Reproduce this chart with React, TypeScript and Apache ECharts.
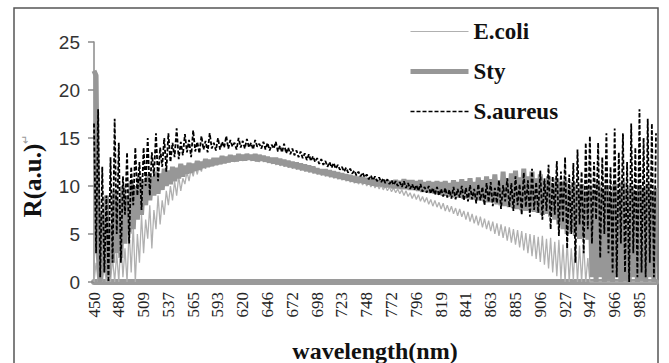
import React, { useEffect, useRef } from 'react';
import * as echarts from 'echarts';

const tickLabels = ['450', '480', '509', '537', '565', '593', '620', '646', '672', '698', '723', '748', '772', '796', '819', '841', '863', '885', '906', '927', '947', '966', '985'];

const seriesNames = ['E.coli', 'Sty', 'S.aureus'];

// 12 readings per labelled tick interval
const ecoli = [
  0, 2, 0, 3, 0, 1.5, 0, 4, 0, 2.5, 0, 3,
  0, 4.5, 0.5, 3.5, 0, 5.5, 1, 6, 0, 5, 2, 7,
  3, 6.5, 4.5, 8, 3.5, 7.5, 5.5, 9, 6, 8.5, 7, 9.5,
  8, 10, 8.5, 10.5, 9, 11, 9.5, 10.8, 10.2, 11.5, 10.5, 11.8,
  11, 12, 11.2, 12.2, 11.5, 12.4, 11.8, 12.5, 12, 12.6, 12.1, 12.7,
  12.2, 12.8, 12.3, 12.9, 12.4, 12.9, 12.5, 13, 12.5, 13, 12.6, 13.1,
  12.6, 13.1, 12.7, 13, 12.6, 13.1, 12.6, 13, 12.5, 12.9, 12.5, 12.9,
  12.4, 12.8, 12.3, 12.7, 12.2, 12.6, 12.1, 12.5, 12, 12.4, 11.9, 12.3,
  11.8, 12.2, 11.7, 12.1, 11.6, 12, 11.5, 11.9, 11.4, 11.8, 11.3, 11.7,
  11.2, 11.6, 11.1, 11.5, 11, 11.4, 10.9, 11.3, 10.8, 11.2, 10.7, 11.1,
  10.6, 11, 10.5, 10.9, 10.4, 10.8, 10.3, 10.7, 10.2, 10.6, 10.1, 10.5,
  10, 10.4, 9.9, 10.3, 9.8, 10.2, 9.7, 10.1, 9.6, 10, 9.5, 9.9,
  9.4, 9.8, 9.3, 9.7, 9.2, 9.6, 9, 9.5, 8.9, 9.3, 8.7, 9.2,
  8.6, 9.1, 8.4, 8.9, 8.3, 8.8, 8.1, 8.6, 7.9, 8.5, 7.8, 8.3,
  7.6, 8.2, 7.4, 8, 7.3, 7.9, 7.1, 7.7, 6.9, 7.6, 6.8, 7.4,
  6.5, 7.3, 6.3, 7.1, 6.1, 6.9, 5.9, 6.8, 5.7, 6.6, 5.5, 6.4,
  5.3, 6.3, 5, 6.1, 4.8, 6, 4.6, 5.8, 4.3, 5.7, 4.1, 5.5,
  3.9, 5.4, 3.6, 5.3, 3.3, 5.1, 3, 5, 2.7, 4.9, 2.4, 4.7,
  2.1, 4.8, 1.8, 4.5, 1.4, 4.6, 1, 4.2, 0.6, 4.4, 0.3, 3.9,
  0, 4.2, 0, 3.5, 0.2, 4.5, 0, 3.8, 0, 4, 0, 2.5,
  0, 0, 0, 0, 0, 0, 0, 0, 0, 0, 0, 0,
  0, 0, 0, 0, 0, 0, 0, 0, 0, 0, 0, 0,
  0, 0, 0, 0, 0, 0, 0, 0, 0,
];

const sty = [
  22, 21.5, 3, 0, 7, 1, 9, 0.5, 6, 2, 9.5, 3,
  8.5, 2.5, 10, 4, 9, 5, 10.5, 5.5, 10, 6.5, 11, 7,
  10.5, 8, 11.2, 8.5, 11, 9, 11.5, 9.2, 11.3, 9.6, 11.8, 10,
  11.6, 10.2, 12, 10.5, 11.9, 10.8, 12.3, 11, 12.1, 11.3, 12.4, 11.4,
  12.3, 11.6, 12.6, 11.7, 12.5, 11.9, 12.8, 12, 12.7, 12.1, 12.9, 12.2,
  12.9, 12.3, 13.1, 12.4, 13, 12.5, 13.2, 12.6, 13.1, 12.6, 13.3, 12.7,
  13.2, 12.7, 13.3, 12.8, 13.2, 12.7, 13.3, 12.6, 13.2, 12.7, 13.1, 12.6,
  13, 12.5, 12.9, 12.4, 12.9, 12.3, 12.8, 12.2, 12.7, 12.1, 12.6, 12,
  12.5, 11.9, 12.4, 11.8, 12.3, 11.7, 12.2, 11.6, 12.1, 11.5, 12, 11.4,
  11.8, 11.3, 11.7, 11.2, 11.7, 11.1, 11.6, 11, 11.5, 10.9, 11.4, 10.8,
  11.3, 10.7, 11.2, 10.6, 11.1, 10.5, 11, 10.4, 10.9, 10.4, 10.9, 10.3,
  10.8, 10.2, 10.7, 10.1, 10.7, 10, 10.6, 10, 10.6, 9.9, 10.5, 9.9,
  10.5, 9.8, 10.6, 9.8, 10.5, 9.7, 10.7, 9.7, 10.6, 9.6, 10.6, 9.6,
  10.5, 9.5, 10.6, 9.4, 10.4, 9.4, 10.5, 9.3, 10.4, 9.2, 10.5, 9.1,
  10.4, 9, 10.5, 9, 10.3, 8.9, 10.6, 8.8, 10.4, 8.8, 10.7, 8.7,
  10.5, 8.7, 10.8, 8.6, 10.4, 8.6, 10.9, 8.5, 10.6, 8.4, 11, 8.3,
  10.7, 8.3, 11.2, 8.1, 10.6, 8, 11.5, 7.9, 10.8, 7.8, 11.3, 7.7,
  11.6, 7.6, 10.9, 7.5, 11.8, 7.4, 11, 7.5, 11.5, 7.3, 10.8, 7.2,
  11.2, 7, 10.5, 7.1, 11, 6.8, 10.3, 6.5, 10.8, 6, 10.4, 5.5,
  10.6, 5, 9.8, 5.2, 10.4, 4.8, 9.6, 4.5, 10.2, 4.6, 9.5, 4.4,
  10, 0.5, 9.2, 0, 10.3, 0.5, 9.6, 0, 10.1, 0.3, 9.4, 0,
  10.2, 0.5, 9.5, 0, 10.4, 0.2, 9.7, 0, 10, 0.5, 9.3, 0,
  10.1, 0.3, 9.6, 0, 10.2, 0.5, 9.4, 0, 9.8,
];

const saureus = [
  16.5, 3, 18, 0.5, 12, 1, 9, 0, 13, 2, 17, 5,
  14.5, 2, 11, 7, 13.5, 4, 12, 8, 14, 9, 12.5, 7.5,
  14, 10, 15, 9, 13.5, 11, 15.5, 10.5, 14, 12, 15, 11.5,
  15.5, 12.5, 14.5, 13, 16, 12.8, 14.6, 13.2, 15.4, 13.5, 14.8, 13,
  15.8, 13.6, 14.6, 13.4, 15.2, 13.8, 14.7, 13.5, 15.5, 13.9, 14.5, 13.7,
  15, 13.8, 14.6, 14, 15.2, 13.9, 14.8, 14.1, 14.5, 13.8, 15, 14,
  14.7, 13.9, 14.9, 14, 14.5, 13.8, 14.8, 14.1, 14.4, 13.9, 14.6, 13.8,
  14.5, 13.7, 14.3, 13.9, 14.6, 13.6, 14.2, 13.5, 14.4, 13.4, 14, 13.3,
  13.9, 13.2, 13.7, 13, 13.6, 12.9, 13.4, 12.7, 13.3, 12.6, 13.1, 12.5,
  12.9, 12.3, 12.8, 12.2, 12.6, 12, 12.5, 11.9, 12.4, 11.8, 12.2, 11.7,
  12, 11.5, 11.9, 11.4, 11.8, 11.3, 11.6, 11.1, 11.5, 11, 11.4, 10.9,
  11.2, 10.7, 11.1, 10.6, 11, 10.5, 10.9, 10.4, 10.8, 10.3, 10.7, 10.2,
  10.6, 10.1, 10.5, 10, 10.4, 9.9, 10.5, 9.8, 10.3, 9.7, 10.2, 9.6,
  10.1, 9.5, 10.2, 9.4, 9.9, 9.3, 10, 9.2, 9.8, 9.1, 9.9, 9,
  9.7, 8.9, 9.8, 8.8, 9.6, 8.7, 9.9, 8.6, 9.7, 8.8, 10, 8.5,
  9.8, 8.4, 10.1, 8.6, 9.7, 8.2, 10.2, 8.5, 9.9, 8, 10.3, 8.3,
  10.4, 7.9, 9.8, 8.2, 10.6, 7.6, 10.1, 8.4, 10.8, 7.8, 10.3, 7.4,
  11, 8, 10.2, 7, 11.4, 7.8, 10.6, 6.8, 11.8, 7.5, 10.4, 7.2,
  11.6, 6.5, 10.8, 7.4, 12.2, 5.5, 11, 7, 12.6, 4.8, 11.5, 6.2,
  13, 3.5, 11.2, 5, 12.4, 2, 13.8, 6, 11.5, 3, 14.5, 5.5,
  15.2, 4, 12.5, 6.5, 14.5, 2.5, 13, 5, 15.5, 3, 12, 1,
  16, 0.5, 13.5, 4, 15.5, 1, 12.5, 0, 16.5, 3, 14, 0.5,
  18, 1, 15, 0.5, 17, 2, 16.5, 0.5, 15.5,
];

const POINTS_PER_TICK = 12;
const categories = sty.map((_, i) =>
  i % POINTS_PER_TICK === 0
    ? tickLabels[i / POINTS_PER_TICK]
    : `${tickLabels[Math.floor(i / POINTS_PER_TICK)]}.${i % POINTS_PER_TICK}`
);

const SERIF = '"Liberation Serif", "Times New Roman", serif';
const SANS = '"Liberation Sans", Arial, sans-serif';

const ECOLI_COLOR = '#b0b0b0';
const STY_COLOR = '#979797';
const SAUREUS_COLOR = '#000000';

export default function App() {
  const ref = useRef<HTMLDivElement>(null);
  useEffect(() => {
    if (!ref.current) return;
    const chart = echarts.init(ref.current, null, { renderer: 'svg' });
    chart.setOption({
      animation: false,
      backgroundColor: '#ffffff',
      grid: { left: 94, right: 13, top: 42, bottom: 81 },
      legend: {
        orient: 'vertical',
        left: 403,
        top: 15,
        itemWidth: 58,
        itemHeight: 14,
        itemGap: 17,
        itemStyle: { opacity: 0 },
        data: [
          { name: seriesNames[0], lineStyle: { color: ECOLI_COLOR, width: 1.2, type: 'solid' } },
          { name: seriesNames[1], lineStyle: { color: STY_COLOR, width: 5, type: 'solid' } },
          { name: seriesNames[2], lineStyle: { color: SAUREUS_COLOR, width: 1.6, type: [4, 2] } },
        ],
        textStyle: { fontFamily: SERIF, fontWeight: 'bold', fontSize: 23, color: '#111' },
      },
      xAxis: {
        type: 'category',
        data: categories,
        boundaryGap: false,
        offset: 2,
        axisLine: { show: true, lineStyle: { color: '#9a9a9a', width: 6 } },
        axisTick: { show: false },
        axisLabel: {
          interval: POINTS_PER_TICK - 1,
          rotate: 90,
          margin: 8,
          fontFamily: SERIF,
          fontSize: 17,
          color: '#222',
        },
        splitLine: { show: false },
      },
      yAxis: {
        type: 'value',
        min: 0,
        max: 25,
        interval: 5,
        axisLine: { show: true, lineStyle: { color: '#8a8a8a', width: 1.5 } },
        axisTick: { show: true, length: 6, lineStyle: { color: '#8a8a8a', width: 1.5 } },
        axisLabel: { margin: 14, fontFamily: SANS, fontSize: 19, color: '#333' },
        splitLine: { show: false },
      },
      graphic: [
        {
          type: 'rect',
          shape: { x: 14, y: 8, width: 644, height: 362 },
          style: { fill: 'none', stroke: '#555', lineWidth: 1.5 },
          silent: true,
        },
        {
          type: 'text',
          x: 375,
          y: 351,
          style: {
            text: 'wavelength(nm)',
            fontFamily: SERIF,
            fontWeight: 'bold',
            fontSize: 24,
            fill: '#111',
            align: 'center',
            verticalAlign: 'middle',
          },
        },
        {
          type: 'text',
          x: 32,
          y: 176,
          rotation: Math.PI / 2,
          style: {
            text: 'R(a.u.){p|↵}',
            fontFamily: SERIF,
            fontWeight: 'bold',
            fontSize: 25,
            fill: '#111',
            align: 'center',
            verticalAlign: 'middle',
            rich: { p: { fontSize: 11, fill: '#999', fontWeight: 'normal', fontFamily: 'DejaVu Sans', verticalAlign: 'top' } },
          },
        },
      ],
      series: [
        {
          name: seriesNames[0],
          type: 'line',
          data: ecoli,
          symbol: 'none',
          z: 1,
          lineStyle: { color: ECOLI_COLOR, width: 1.3 },
          itemStyle: { color: ECOLI_COLOR },
        },
        {
          name: seriesNames[1],
          type: 'line',
          data: sty,
          symbol: 'none',
          z: 2,
          lineStyle: { color: STY_COLOR, width: 5 },
          itemStyle: { color: STY_COLOR },
        },
        {
          name: seriesNames[2],
          type: 'line',
          data: saureus,
          symbol: 'none',
          z: 3,
          lineStyle: { color: SAUREUS_COLOR, width: 1.8, type: [4, 2] },
          itemStyle: { color: SAUREUS_COLOR },
        },
      ],
    });
    return () => chart.dispose();
  }, []);
  return (
    <div
      ref={ref}
      style={{ position: 'fixed', left: 0, top: 0, width: 669, height: 363, background: '#fff' }}
    />
  );
}
